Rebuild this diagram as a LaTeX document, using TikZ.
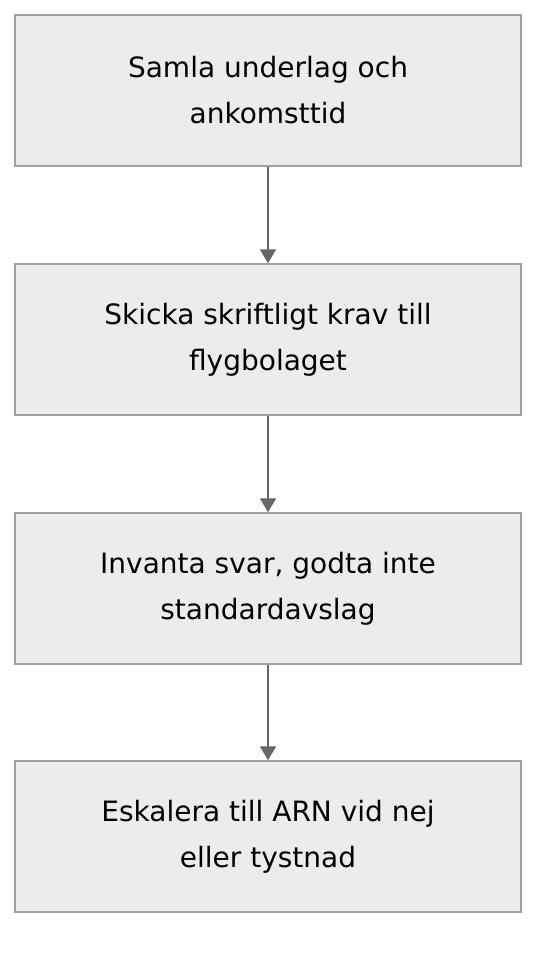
\documentclass[tikz,border=0pt]{standalone}
\usepackage{fontspec}
\setmainfont{DejaVu Sans}
\usetikzlibrary{arrows.meta}
\definecolor{boxfill}{HTML}{ECECEC}
\definecolor{boxline}{HTML}{A0A0A0}
\definecolor{arrowcol}{HTML}{666666}
\tikzset{
  stepbox/.style={draw=boxline, fill=boxfill, line width=1.5pt, minimum width=506pt, minimum height=151pt,
    inner sep=0pt, align=center, font=\fontsize{28}{46}\selectfont, text=black},
  flow/.style={draw=arrowcol, line width=2pt, -{Triangle[length=14pt,width=16pt]}}
}
\begin{document}
\begin{tikzpicture}[x=1pt,y=1pt]
\useasboundingbox (0,0) rectangle (552,-956);
\node[stepbox] (a) at (268,-90.5) {Samla underlag och\\ankomsttid};
\node[stepbox] (b) at (268,-339.5) {Skicka skriftligt krav till\\flygbolaget};
\node[stepbox] (c) at (268,-588.5) {Invanta svar, godta inte\\standardavslag};
\node[stepbox] (d) at (268,-836.5) {Eskalera till ARN vid nej\\eller tystnad};
\draw[flow] (a.south) -- (b.north);
\draw[flow] (b.south) -- (c.north);
\draw[flow] (c.south) -- (d.north);
\end{tikzpicture}
\end{document}
